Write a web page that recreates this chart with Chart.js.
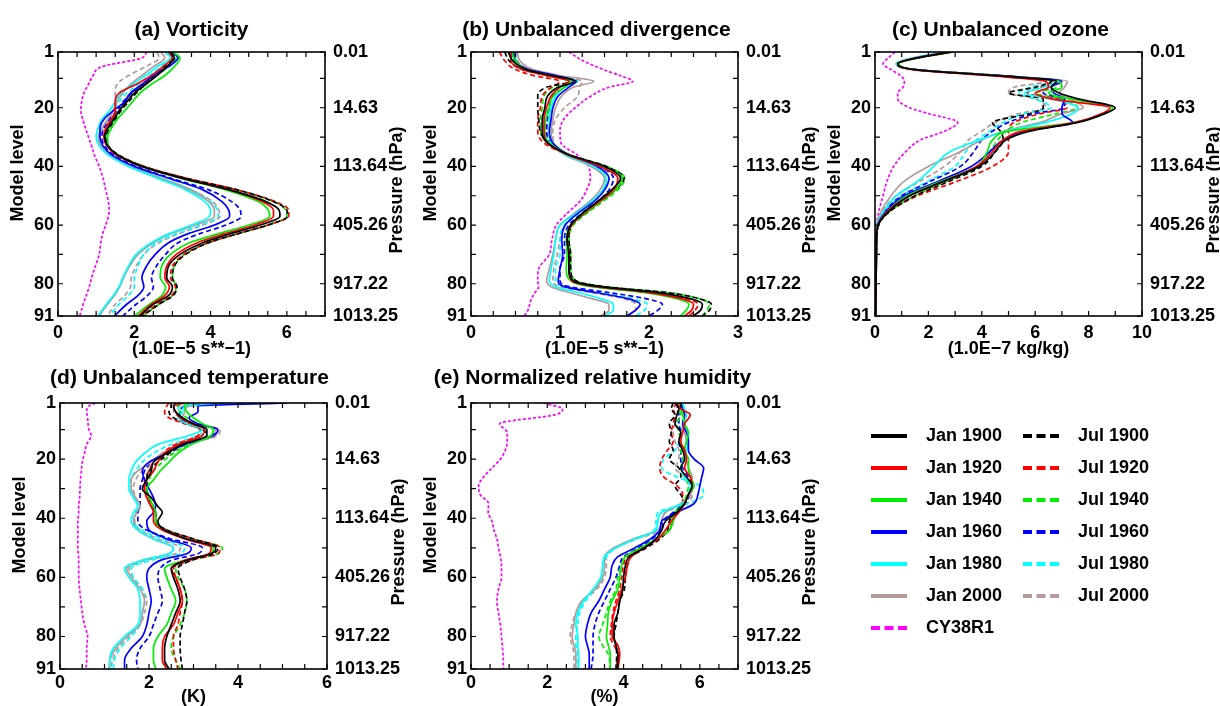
<!DOCTYPE html>
<html>
<head>
<meta charset="utf-8">
<script src="https://cdn.jsdelivr.net/npm/chart.js@4.4.1/dist/chart.umd.min.js"></script>
<style>
  body { margin: 0; background: #fff; width: 1220px; height: 706px; position: relative; overflow: hidden; }
  canvas { position: absolute; }
</style>
</head>
<body>
<canvas id="vor"></canvas>
<canvas id="div"></canvas>
<canvas id="ozo"></canvas>
<canvas id="tmp"></canvas>
<canvas id="rh"></canvas>
<canvas id="legJan"></canvas>
<canvas id="legJul"></canvas>
<script>
// series (same order in every value table below)
const seriesNames = ['Jan 1900', 'Jan 1920', 'Jan 1940', 'Jan 1960', 'Jan 1980', 'Jan 2000', 'CY38R1',
                     'Jul 1900', 'Jul 1920', 'Jul 1940', 'Jul 1960', 'Jul 1980', 'Jul 2000'];
const seriesColors = ['#000000', '#ff0000', '#00ee00', '#0000ff', '#00ffff', '#b49a9a', '#ff00ff',
                      '#000000', '#ff0000', '#00ee00', '#0000ff', '#00ffff', '#b49a9a'];
const seriesDash = [[], [], [], [], [], [], [3, 2], [5, 3], [5, 3], [5, 3], [5, 3], [5, 3], [5, 3]];

// model levels with tick marks, the labelled ones and their pressures
const modelTicks = [1, 10, 20, 30, 40, 50, 60, 70, 80, 91];
const labelLevels = [1, 20, 40, 60, 80, 91];
const pressureLabels = ['0.01', '14.63', '113.64', '405.26', '917.22', '1013.25'];

// (a) vorticity, 1.0E-5 s**-1
const vorLevels = [1, 3, 6, 9, 12, 15, 18, 21, 24, 27, 30, 33, 36, 40, 44, 48, 52, 55, 57, 60, 63, 66, 70, 74, 78, 81, 84, 87, 91];
const vorValues = [
  [2.95, 3.05, 2.85, 2.6, 2.3, 2.0, 1.8, 1.6, 1.45, 1.3, 1.22, 1.3, 1.55, 2.2, 3.25, 4.5, 5.45, 5.8, 5.82, 5.3, 4.5, 3.8, 3.2, 2.9, 2.85, 3.0, 2.9, 2.5, 2.15],
  [2.9, 3.0, 2.75, 2.45, 2.05, 1.6, 1.5, 1.5, 1.4, 1.25, 1.2, 1.28, 1.52, 2.2, 3.25, 4.5, 5.35, 5.65, 5.65, 5.15, 4.35, 3.65, 3.1, 2.85, 2.8, 2.92, 2.8, 2.45, 2.1],
  [3.0, 3.2, 3.05, 2.8, 2.45, 2.15, 1.95, 1.75, 1.55, 1.4, 1.3, 1.32, 1.55, 2.2, 3.2, 4.4, 5.25, 5.52, 5.55, 5.0, 4.2, 3.45, 2.95, 2.72, 2.68, 2.82, 2.72, 2.4, 2.0],
  [2.95, 3.15, 2.9, 2.5, 2.2, 1.9, 1.75, 1.45, 1.2, 1.1, 1.1, 1.18, 1.4, 2.0, 2.9, 3.8, 4.3, 4.48, 4.5, 4.1, 3.4, 2.9, 2.55, 2.32, 2.2, 2.25, 2.1, 1.8, 1.48],
  [2.85, 2.95, 2.6, 2.3, 1.95, 1.65, 1.5, 1.35, 1.15, 1.05, 1.0, 1.08, 1.3, 1.85, 2.6, 3.35, 3.85, 4.0, 3.98, 3.5, 2.9, 2.45, 2.05, 1.85, 1.7, 1.6, 1.45, 1.27, 1.05],
  [2.7, 2.8, 2.5, 2.2, 1.9, 1.7, 1.55, 1.45, 1.3, 1.15, 1.05, 1.12, 1.32, 1.88, 2.65, 3.45, 3.95, 4.1, 4.1, 3.6, 2.95, 2.5, 2.1, 1.88, 1.72, 1.62, 1.48, 1.3, 1.08],
  [2.32, 2.2, 1.15, 0.92, 0.8, 0.68, 0.62, 0.6, 0.65, 0.72, 0.8, 0.88, 0.95, 1.08, 1.18, 1.25, 1.32, 1.34, 1.32, 1.25, 1.17, 1.12, 1.08, 0.98, 0.88, 0.82, 0.74, 0.66, 0.57],
  [2.9, 3.0, 2.8, 2.55, 2.3, 2.05, 1.85, 1.65, 1.5, 1.35, 1.25, 1.32, 1.58, 2.25, 3.35, 4.7, 5.65, 6.0, 6.02, 5.5, 4.7, 3.95, 3.35, 3.05, 3.0, 3.12, 3.02, 2.65, 2.22],
  [2.9, 3.0, 2.8, 2.55, 2.25, 1.9, 1.75, 1.6, 1.45, 1.3, 1.22, 1.3, 1.56, 2.25, 3.35, 4.7, 5.7, 6.05, 6.05, 5.5, 4.7, 3.95, 3.3, 3.0, 2.95, 3.08, 2.98, 2.6, 2.2],
  [2.95, 3.1, 2.9, 2.6, 2.3, 2.0, 1.8, 1.62, 1.48, 1.33, 1.25, 1.3, 1.56, 2.25, 3.3, 4.65, 5.65, 5.98, 6.0, 5.5, 4.7, 3.95, 3.32, 3.05, 3.0, 3.1, 3.0, 2.65, 2.22],
  [2.9, 3.05, 2.85, 2.5, 2.25, 1.95, 1.7, 1.55, 1.35, 1.2, 1.15, 1.22, 1.45, 2.05, 2.95, 3.95, 4.55, 4.78, 4.8, 4.4, 3.7, 3.15, 2.82, 2.58, 2.45, 2.5, 2.35, 2.05, 1.7],
  [2.8, 2.95, 2.7, 2.4, 2.1, 1.8, 1.6, 1.45, 1.3, 1.15, 1.08, 1.15, 1.35, 1.9, 2.7, 3.5, 4.0, 4.18, 4.2, 3.75, 3.1, 2.6, 2.25, 2.1, 2.0, 2.0, 1.85, 1.6, 1.35],
  [2.6, 2.65, 2.3, 1.85, 1.55, 1.5, 1.5, 1.45, 1.35, 1.2, 1.1, 1.15, 1.35, 1.92, 2.72, 3.5, 4.05, 4.22, 4.25, 3.8, 3.15, 2.65, 2.25, 2.05, 1.92, 1.9, 1.75, 1.5, 1.3]
];

// (b) unbalanced divergence, 1.0E-5 s**-1
const divLevels = [1, 4, 7, 9, 11, 13, 16, 20, 24, 28, 32, 36, 40, 44, 48, 52, 56, 60, 65, 70, 75, 79, 81, 83, 85, 87, 89, 91];
const divValues = [
  [0.42, 0.47, 0.62, 0.9, 1.18, 0.98, 0.86, 0.83, 0.8, 0.8, 0.86, 1.1, 1.5, 1.68, 1.58, 1.42, 1.25, 1.12, 1.08, 1.1, 1.1, 1.15, 1.45, 2.1, 2.45, 2.6, 2.58, 2.5],
  [0.45, 0.45, 0.58, 0.85, 1.1, 1.0, 0.9, 0.85, 0.82, 0.82, 0.86, 1.08, 1.45, 1.65, 1.6, 1.44, 1.26, 1.13, 1.08, 1.1, 1.1, 1.13, 1.4, 2.0, 2.35, 2.5, 2.48, 2.4],
  [0.46, 0.5, 0.62, 0.88, 1.12, 1.05, 0.92, 0.88, 0.84, 0.83, 0.88, 1.1, 1.48, 1.7, 1.62, 1.45, 1.27, 1.12, 1.07, 1.08, 1.07, 1.12, 1.35, 1.95, 2.3, 2.45, 2.42, 2.35],
  [0.48, 0.5, 0.65, 0.95, 1.18, 1.1, 0.98, 0.92, 0.9, 0.88, 0.92, 1.1, 1.42, 1.55, 1.5, 1.38, 1.2, 1.06, 1.02, 1.03, 1.0, 0.98, 1.05, 1.4, 1.75, 1.9, 1.85, 1.75],
  [0.5, 0.5, 0.62, 0.92, 1.2, 1.05, 0.95, 0.9, 0.88, 0.88, 0.9, 1.05, 1.38, 1.52, 1.48, 1.35, 1.18, 1.0, 0.95, 0.93, 0.9, 0.88, 0.95, 1.2, 1.45, 1.6, 1.6, 1.5],
  [0.52, 0.55, 0.7, 1.0, 1.38, 1.15, 1.02, 0.95, 0.92, 0.9, 0.92, 1.05, 1.35, 1.5, 1.45, 1.33, 1.16, 1.0, 0.95, 0.92, 0.88, 0.85, 0.9, 1.1, 1.35, 1.55, 1.55, 1.45],
  [1.1, 1.26, 1.49, 1.67, 1.82, 1.55, 1.35, 1.17, 1.04, 1.0, 1.01, 1.19, 1.32, 1.34, 1.3, 1.22, 1.08, 0.96, 0.91, 0.88, 0.76, 0.75, 0.76, 0.72, 0.68, 0.66, 0.64, 0.6],
  [0.38, 0.43, 0.58, 0.85, 1.12, 0.85, 0.75, 0.75, 0.76, 0.78, 0.86, 1.1, 1.52, 1.72, 1.62, 1.45, 1.28, 1.13, 1.1, 1.12, 1.12, 1.18, 1.5, 2.2, 2.55, 2.7, 2.68, 2.6],
  [0.32, 0.38, 0.5, 0.7, 1.0, 0.9, 0.8, 0.78, 0.75, 0.75, 0.82, 1.08, 1.48, 1.7, 1.62, 1.45, 1.28, 1.13, 1.08, 1.1, 1.1, 1.15, 1.45, 2.1, 2.4, 2.55, 2.52, 2.45],
  [0.42, 0.47, 0.6, 0.85, 1.1, 0.92, 0.82, 0.8, 0.78, 0.78, 0.86, 1.1, 1.52, 1.73, 1.65, 1.48, 1.3, 1.15, 1.1, 1.12, 1.12, 1.18, 1.5, 2.2, 2.55, 2.68, 2.65, 2.6],
  [0.45, 0.48, 0.62, 0.9, 1.15, 1.05, 0.92, 0.88, 0.86, 0.85, 0.9, 1.1, 1.45, 1.6, 1.55, 1.42, 1.25, 1.1, 1.05, 1.05, 1.0, 1.0, 1.1, 1.55, 1.95, 2.15, 2.1, 2.0],
  [0.47, 0.48, 0.6, 0.9, 1.18, 1.0, 0.9, 0.86, 0.85, 0.85, 0.9, 1.08, 1.42, 1.55, 1.5, 1.38, 1.22, 1.05, 1.0, 1.0, 0.95, 0.95, 1.05, 1.45, 1.8, 1.98, 1.95, 1.85],
  [0.5, 0.52, 0.66, 0.95, 1.25, 1.22, 1.2, 1.05, 0.95, 0.92, 0.93, 1.08, 1.4, 1.55, 1.5, 1.38, 1.2, 1.05, 1.0, 0.97, 0.93, 0.92, 1.0, 1.35, 1.7, 1.85, 1.85, 1.75]
];

// (c) unbalanced ozone, 1.0E-7 kg/kg
const ozoLevels = [1, 3, 5, 7, 9, 11, 13, 15, 17, 20, 22, 25, 28, 31, 35, 40, 45, 50, 55, 60, 65, 70, 80, 91];
const ozoValues = [
  [2.9, 1.6, 0.85, 1.5, 4.5, 6.8, 6.6, 6.9, 7.6, 9.0, 8.6, 7.6, 5.8, 4.9, 4.5, 3.9, 2.6, 1.3, 0.55, 0.12, 0.06, 0.05, 0.04, 0.03],
  [2.9, 1.6, 0.85, 1.4, 4.2, 6.4, 6.5, 6.0, 6.6, 8.8, 8.5, 7.5, 5.5, 4.8, 4.4, 3.8, 2.6, 1.3, 0.5, 0.12, 0.06, 0.05, 0.04, 0.03],
  [2.95, 1.65, 0.9, 1.5, 4.4, 6.9, 7.0, 6.5, 7.3, 8.9, 8.6, 7.5, 5.0, 4.4, 4.2, 3.8, 2.5, 1.2, 0.5, 0.12, 0.06, 0.05, 0.04, 0.03],
  [2.8, 1.55, 0.85, 1.5, 4.6, 7.0, 6.6, 6.7, 7.1, 7.0, 7.0, 7.4, 5.6, 4.8, 4.3, 3.6, 2.4, 1.1, 0.45, 0.1, 0.05, 0.05, 0.04, 0.03],
  [2.7, 1.45, 0.8, 1.45, 4.4, 6.8, 6.3, 5.6, 6.6, 7.6, 7.4, 6.4, 4.9, 3.9, 2.8, 2.2, 1.6, 0.8, 0.35, 0.08, 0.05, 0.04, 0.04, 0.03],
  [2.7, 1.5, 0.8, 1.5, 4.6, 7.2, 7.1, 6.9, 7.3, 7.8, 7.0, 6.2, 4.8, 4.0, 3.2, 2.0, 1.1, 0.6, 0.25, 0.06, 0.04, 0.04, 0.04, 0.03],
  [0.75, 0.5, 0.3, 0.6, 0.95, 1.1, 1.05, 0.85, 0.85, 1.3, 2.0, 3.1, 2.6, 1.7, 1.15, 0.7, 0.45, 0.3, 0.15, 0.06, 0.03, 0.02, 0.02, 0.02],
  [2.8, 1.5, 0.85, 1.5, 4.6, 6.6, 6.0, 5.0, 6.3, 6.3, 5.8, 4.4, 4.7, 4.8, 4.5, 4.0, 2.8, 1.5, 0.6, 0.12, 0.06, 0.05, 0.04, 0.03],
  [2.85, 1.55, 0.85, 1.5, 4.5, 6.7, 6.2, 5.7, 6.8, 7.2, 6.2, 5.2, 5.0, 5.0, 5.0, 4.4, 3.1, 1.6, 0.6, 0.12, 0.06, 0.05, 0.04, 0.03],
  [2.9, 1.55, 0.85, 1.5, 4.5, 6.8, 6.8, 6.0, 7.0, 7.6, 6.8, 5.5, 4.9, 4.6, 4.3, 3.9, 2.7, 1.5, 0.6, 0.12, 0.06, 0.05, 0.04, 0.03],
  [2.8, 1.5, 0.85, 1.5, 4.5, 6.8, 6.5, 6.3, 7.0, 7.1, 6.0, 5.0, 4.4, 4.0, 3.7, 3.2, 2.1, 1.0, 0.4, 0.1, 0.05, 0.05, 0.04, 0.03],
  [2.7, 1.45, 0.8, 1.45, 4.3, 6.6, 5.8, 5.4, 6.0, 6.6, 5.6, 4.8, 4.3, 3.8, 3.4, 3.0, 2.0, 1.0, 0.4, 0.1, 0.05, 0.04, 0.04, 0.03],
  [2.65, 1.45, 0.8, 1.45, 4.3, 6.4, 5.2, 5.0, 6.0, 6.4, 5.4, 4.5, 4.0, 3.5, 3.2, 2.6, 1.7, 0.8, 0.3, 0.07, 0.04, 0.04, 0.04, 0.03]
];

// (d) unbalanced temperature, K
const tmpLevels = [1, 2, 4, 6, 8, 10, 12, 15, 18, 21, 24, 27, 30, 33, 36, 38, 41, 44, 47, 50, 52, 54, 57, 60, 64, 68, 72, 76, 80, 84, 88, 91];
const tmpValues = [
  [2.6, 2.55, 2.6, 2.75, 3.0, 3.3, 3.3, 2.75, 2.4, 2.1, 2.05, 1.95, 1.85, 2.05, 2.2, 2.3, 2.2, 2.35, 2.85, 3.5, 3.4, 2.9, 2.5, 2.55, 2.65, 2.7, 2.6, 2.5, 2.4, 2.35, 2.35, 2.45],
  [2.8, 2.55, 2.6, 2.7, 2.95, 3.25, 3.2, 2.65, 2.35, 2.2, 2.1, 1.95, 1.9, 1.95, 2.05, 2.1, 2.1, 2.3, 2.8, 3.4, 3.35, 2.85, 2.5, 2.6, 2.7, 2.75, 2.65, 2.55, 2.35, 2.3, 2.3, 2.4],
  [2.9, 2.8, 2.85, 3.0, 3.2, 3.45, 3.4, 2.95, 2.65, 2.45, 2.25, 2.1, 1.95, 2.0, 2.1, 2.15, 2.15, 2.35, 2.85, 3.45, 3.4, 2.85, 2.35, 2.4, 2.5, 2.6, 2.5, 2.4, 2.2, 2.1, 2.1, 2.15],
  [5.1, 3.1, 3.1, 2.9, 3.1, 3.55, 3.45, 2.8, 2.4, 2.0, 1.85, 1.9, 2.0, 2.1, 2.15, 2.1, 1.95, 2.0, 2.4, 2.95, 2.85, 2.3, 2.0, 1.95, 2.0, 2.05, 2.0, 1.95, 1.85, 1.6, 1.45, 1.45],
  [4.8, 2.8, 2.75, 2.65, 2.85, 3.2, 2.9, 2.2, 1.9, 1.7, 1.6, 1.55, 1.55, 1.65, 1.75, 1.65, 1.6, 1.75, 2.1, 2.55, 2.45, 1.9, 1.45, 1.55, 1.75, 1.8, 1.8, 1.75, 1.45, 1.2, 1.12, 1.12],
  [5.0, 2.9, 2.8, 2.75, 3.0, 3.5, 3.5, 2.75, 2.3, 2.05, 1.75, 1.6, 1.6, 1.7, 1.8, 1.72, 1.65, 1.75, 2.1, 2.55, 2.45, 1.9, 1.5, 1.6, 1.8, 1.9, 1.85, 1.8, 1.5, 1.25, 1.12, 1.1],
  [0.8, 0.65, 0.6, 0.62, 0.63, 0.65, 0.7, 0.6, 0.55, 0.5, 0.48, 0.46, 0.45, 0.44, 0.42, 0.42, 0.4, 0.4, 0.4, 0.4, 0.41, 0.42, 0.42, 0.42, 0.44, 0.47, 0.5, 0.55, 0.62, 0.6, 0.6, 0.58],
  [2.5, 2.5, 2.45, 2.55, 2.85, 3.2, 3.3, 2.8, 2.45, 2.2, 2.0, 1.95, 1.95, 2.0, 2.05, 2.15, 2.15, 2.4, 3.0, 3.55, 3.45, 3.0, 2.65, 2.7, 2.8, 2.85, 2.8, 2.75, 2.7, 2.7, 2.72, 2.75],
  [2.45, 2.4, 2.35, 2.45, 2.8, 3.15, 3.1, 2.6, 2.3, 2.1, 2.0, 1.9, 1.9, 1.95, 2.05, 2.15, 2.15, 2.4, 3.0, 3.6, 3.55, 3.0, 2.55, 2.6, 2.7, 2.75, 2.7, 2.65, 2.55, 2.55, 2.6, 2.65],
  [2.7, 2.65, 2.7, 2.85, 3.1, 3.45, 3.4, 2.9, 2.55, 2.3, 2.1, 2.0, 1.95, 2.0, 2.1, 2.15, 2.15, 2.4, 3.0, 3.65, 3.55, 3.0, 2.6, 2.65, 2.8, 2.85, 2.8, 2.7, 2.55, 2.5, 2.6, 2.7],
  [4.6, 2.8, 2.7, 2.7, 2.95, 3.5, 3.4, 2.75, 2.35, 2.05, 1.9, 1.85, 1.8, 1.8, 1.8, 1.75, 1.75, 1.95, 2.5, 3.2, 3.1, 2.55, 2.25, 2.2, 2.25, 2.3, 2.2, 2.1, 2.0, 1.8, 1.72, 1.75],
  [4.5, 2.7, 2.65, 2.7, 2.9, 3.3, 3.1, 2.5, 2.1, 1.85, 1.7, 1.6, 1.6, 1.65, 1.75, 1.7, 1.65, 1.85, 2.3, 2.8, 2.7, 2.1, 1.6, 1.65, 1.85, 1.9, 1.85, 1.8, 1.6, 1.35, 1.22, 1.2],
  [4.7, 2.6, 2.55, 2.7, 2.95, 3.6, 3.55, 2.85, 2.5, 2.2, 1.85, 1.7, 1.65, 1.7, 1.8, 1.72, 1.68, 1.8, 2.2, 2.7, 2.6, 2.0, 1.55, 1.65, 1.85, 1.95, 1.9, 1.8, 1.55, 1.3, 1.18, 1.15]
];

// (e) normalized relative humidity, %
const rhLevels = [1, 3, 5, 8, 11, 14, 17, 20, 23, 26, 29, 32, 35, 38, 41, 44, 47, 50, 53, 56, 60, 64, 68, 72, 76, 80, 83, 86, 91];
const rhValues = [
  [5.35, 5.45, 5.4, 5.35, 5.5, 5.45, 5.55, 5.6, 5.5, 5.65, 5.8, 5.7, 5.6, 5.4, 5.1, 5.0, 4.85, 4.55, 4.15, 4.05, 4.0, 3.98, 3.9, 3.85, 3.75, 3.75, 3.8, 3.85, 3.85],
  [5.4, 5.5, 5.75, 5.6, 5.55, 5.5, 5.6, 5.65, 5.6, 5.75, 5.8, 5.7, 5.6, 5.45, 5.25, 5.1, 4.9, 4.55, 4.2, 4.1, 4.05, 3.95, 3.85, 3.75, 3.7, 3.7, 3.85, 3.9, 3.85],
  [5.45, 5.5, 5.55, 5.6, 5.7, 5.65, 5.6, 5.7, 5.7, 5.75, 5.85, 5.7, 5.6, 5.4, 5.3, 5.2, 4.85, 4.45, 4.05, 3.95, 3.9, 3.85, 3.7, 3.6, 3.58, 3.55, 3.6, 3.65, 3.65],
  [5.5, 5.55, 5.6, 5.55, 5.65, 5.7, 5.7, 5.85, 6.1, 6.05, 6.0, 5.95, 5.85, 5.4, 5.0, 4.95, 4.7, 4.3, 3.85, 3.7, 3.65, 3.5, 3.35, 3.15, 3.05, 3.0, 3.05, 3.1, 3.1],
  [5.55, 5.6, 5.65, 5.6, 5.7, 5.7, 5.65, 5.6, 5.5, 5.6, 5.75, 5.7, 5.55, 5.0, 4.9, 4.85, 4.3, 3.8, 3.5, 3.45, 3.4, 3.2, 2.95, 2.8, 2.75, 2.8, 2.8, 2.82, 2.82],
  [5.5, 5.55, 5.6, 5.55, 5.6, 5.65, 5.6, 5.65, 5.7, 5.8, 5.8, 5.75, 5.5, 5.1, 5.0, 4.9, 4.25, 3.75, 3.5, 3.5, 3.45, 3.25, 2.9, 2.75, 2.7, 2.65, 2.7, 2.75, 2.75],
  [1.9, 2.4, 2.2, 0.75, 0.95, 0.95, 0.9, 0.77, 0.55, 0.33, 0.2, 0.24, 0.46, 0.45, 0.55, 0.6, 0.68, 0.72, 0.77, 0.8, 0.8, 0.72, 0.68, 0.72, 0.77, 0.8, 0.82, 0.84, 0.85],
  [5.3, 5.25, 5.35, 5.2, 5.25, 5.2, 5.3, 5.2, 5.45, 5.5, 5.35, 5.5, 5.6, 5.35, 5.2, 5.15, 4.95, 4.6, 4.2, 4.1, 4.05, 4.02, 3.9, 3.85, 3.8, 3.75, 3.8, 3.82, 3.8],
  [5.4, 5.3, 5.35, 5.3, 5.25, 5.3, 5.15, 5.0, 4.95, 5.05, 5.4, 5.55, 5.55, 5.4, 5.3, 5.2, 4.9, 4.5, 4.1, 4.0, 3.95, 3.9, 3.8, 3.72, 3.68, 3.65, 3.75, 3.85, 3.8],
  [5.5, 5.45, 5.5, 5.4, 5.45, 5.5, 5.5, 5.55, 5.5, 5.6, 5.7, 5.65, 5.55, 5.35, 5.25, 5.2, 4.9, 4.45, 4.05, 3.95, 3.85, 3.8, 3.65, 3.55, 3.45, 3.35, 3.45, 3.6, 3.65],
  [5.45, 5.4, 5.45, 5.45, 5.5, 5.45, 5.5, 5.5, 5.55, 5.7, 5.8, 5.75, 5.6, 5.3, 5.05, 5.0, 4.75, 4.4, 4.0, 3.9, 3.8, 3.65, 3.5, 3.35, 3.25, 3.2, 3.2, 3.2, 3.15],
  [5.5, 5.5, 5.6, 5.55, 5.5, 5.45, 5.35, 5.05, 5.0, 5.4, 6.0, 6.1, 5.7, 4.9, 4.85, 4.8, 4.3, 3.8, 3.55, 3.5, 3.45, 3.25, 3.0, 2.85, 2.8, 2.75, 2.75, 2.8, 2.8],
  [5.45, 5.4, 5.5, 5.35, 5.3, 5.35, 5.45, 5.45, 5.35, 5.6, 5.75, 5.8, 5.65, 5.1, 5.0, 4.95, 4.35, 3.8, 3.55, 3.55, 3.5, 3.3, 2.95, 2.75, 2.65, 2.6, 2.65, 2.7, 2.7]
];

Chart.defaults.font.family = "'Liberation Sans', Arial, Helvetica, sans-serif";
Chart.defaults.font.weight = 'bold';
Chart.defaults.font.size = 18;
Chart.defaults.color = '#000';

// box frame, inward tick marks and the two rotated side titles
const frameAndTitles = {
  id: 'frameAndTitles',
  afterDraw(chart, args, opts) {
    const { ctx, chartArea: a, scales } = chart;
    ctx.save();
    ctx.strokeStyle = '#000';
    ctx.lineWidth = 1.2;
    ctx.beginPath();
    scales.x.ticks.forEach(t => {
      const px = scales.x.getPixelForValue(t.value);
      ctx.moveTo(px, a.bottom); ctx.lineTo(px, a.bottom - 5);
      ctx.moveTo(px, a.top); ctx.lineTo(px, a.top + 5);
    });
    scales.y.ticks.forEach(t => {
      const py = scales.y.getPixelForValue(t.value);
      ctx.moveTo(a.left, py); ctx.lineTo(a.left + 5, py);
      ctx.moveTo(a.right, py); ctx.lineTo(a.right - 5, py);
    });
    ctx.stroke();
    ctx.lineWidth = 1.6;
    ctx.strokeRect(a.left, a.top, a.right - a.left, a.bottom - a.top);

    ctx.fillStyle = '#000';
    ctx.font = "bold 18px 'Liberation Sans', Arial, sans-serif";
    ctx.textAlign = 'center';
    ctx.textBaseline = 'middle';
    const midY = (a.top + a.bottom) / 2;
    [[opts.left, a.left - 40, midY - 11], [opts.right, a.right + 72, midY + 6]].forEach(([text, x, y]) => {
      ctx.save();
      ctx.translate(x, y);
      ctx.rotate(-Math.PI / 2);
      ctx.fillText(text, 0, 0);
      ctx.restore();
    });
    ctx.restore();
  }
};

// titleShift moves the panel title left of the plot centre by that many pixels
const panels = [
  { id: 'vor', title: '(a) Vorticity', levels: vorLevels, values: vorValues, xMax: 7, minor: 0.5, major: 2,
    xTitle: '(1.0E\u22125 s**\u22121)', box: [58, 52, 325, 316], titleTop: 18, titleShift: 0, tickPad: 6, titlePad: 4 },
  { id: 'div', title: '(b) Unbalanced divergence', levels: divLevels, values: divValues, xMax: 3, minor: 0.25, major: 1,
    xTitle: '(1.0E\u22125 s**\u22121)', box: [471, 52, 738, 316], titleTop: 18, titleShift: 8, tickPad: 6, titlePad: 4 },
  { id: 'ozo', title: '(c) Unbalanced ozone', levels: ozoLevels, values: ozoValues, xMax: 10, minor: 1, major: 2,
    xTitle: '(1.0E\u22127 kg/kg)', box: [875, 52, 1142, 316], titleTop: 18, titleShift: 8, tickPad: 6, titlePad: 4 },
  { id: 'tmp', title: '(d) Unbalanced temperature', levels: tmpLevels, values: tmpValues, xMax: 6, minor: 0.5, major: 2,
    xTitle: '(K)', box: [60, 403, 327, 669], titleTop: 15, titleShift: 4, tickPad: 3, titlePad: 9 },
  { id: 'rh', title: '(e) Normalized relative humidity', levels: rhLevels, values: rhValues, xMax: 7, minor: 0.5, major: 2,
    xTitle: '(%)', box: [471, 403, 738, 669], titleTop: 15, titleShift: 12, tickPad: 3, titlePad: 9 }
];

const RIGHT_W = 95, TOP_H = 52, BOTTOM_H = 48;

panels.forEach(p => {
  const [l, t, r, b] = p.box;
  // the full-width title is centred on the canvas, so widen the left side to shift it
  const leftW = RIGHT_W + 2 * p.titleShift;
  const canvas = document.getElementById(p.id);
  canvas.width = (r - l) + leftW + RIGHT_W;
  canvas.height = (b - t) + TOP_H + BOTTOM_H;
  canvas.style.left = (l - leftW) + 'px';
  canvas.style.top = (t - TOP_H) + 'px';

  const datasets = seriesNames.map((name, i) => ({
    label: name,
    data: p.levels.map((lv, k) => ({ x: p.values[i][k], y: lv })),
    borderColor: seriesColors[i],
    borderDash: seriesDash[i],
    borderWidth: 1.7,
    pointRadius: 0,
    fill: false,
    cubicInterpolationMode: 'monotone'
  }));

  const levelAxis = (position, pad, width, label) => ({
    type: 'linear', position, min: 1, max: 91, reverse: true,
    afterBuildTicks: s => { s.ticks = modelTicks.map(v => ({ value: v })); },
    grid: { display: false, drawTicks: false },
    border: { display: false },
    ticks: { autoSkip: false, padding: pad, callback: label },
    afterFit: s => { s.width = width; }
  });

  new Chart(canvas, {
    type: 'line',
    data: { datasets },
    options: {
      responsive: false,
      animation: false,
      indexAxis: 'y',
      layout: { padding: 0 },
      plugins: {
        legend: { display: false },
        tooltip: { enabled: false },
        title: {
          display: true, text: p.title, fullSize: true,
          font: { size: 21, weight: 'bold' },
          padding: { top: p.titleTop, bottom: TOP_H - p.titleTop - 25.2 }
        },
        frameAndTitles: { left: 'Model level', right: 'Pressure (hPa)' }
      },
      scales: {
        x: {
          type: 'linear', min: 0, max: p.xMax,
          grid: { display: false, drawTicks: false },
          border: { display: false },
          ticks: {
            stepSize: p.minor, autoSkip: false, maxRotation: 0, padding: p.tickPad,
            callback: v => (Math.abs(v / p.major - Math.round(v / p.major)) < 1e-6 ? String(Math.round(v)) : '')
          },
          title: { display: true, text: p.xTitle, padding: { top: 0, bottom: p.titlePad } },
          afterFit: s => { s.height = BOTTOM_H; }
        },
        y: levelAxis('left', 4, leftW, v => (labelLevels.includes(v) ? String(v) : '')),
        y2: levelAxis('right', 8, RIGHT_W, v => {
          const i = labelLevels.indexOf(v);
          return i < 0 ? '' : pressureLabels[i];
        })
      }
    },
    plugins: [frameAndTitles]
  });
});

// legend, two columns: January runs with CY38R1, then July runs
function legendItems(chart) {
  return chart.data.datasets.map((ds, i) => ({
    text: '  ' + ds.label,
    strokeStyle: ds.borderColor,
    fillStyle: ds.borderColor,
    lineWidth: 4,
    lineDash: ds.borderDash.length ? [9, 4.5] : [],
    pointStyle: 'line',
    hidden: false,
    datasetIndex: i
  }));
}

function makeLegend(id, left, names) {
  const canvas = document.getElementById(id);
  canvas.width = 360;
  canvas.height = 260;
  canvas.style.left = left + 'px';
  canvas.style.top = '413px';
  new Chart(canvas, {
    type: 'line',
    data: {
      datasets: names.map(name => {
        const i = seriesNames.indexOf(name);
        return { label: name, data: [], borderColor: seriesColors[i], borderDash: seriesDash[i] };
      })
    },
    options: {
      responsive: false,
      animation: false,
      layout: { padding: 0 },
      scales: { x: { display: false }, y: { display: false } },
      plugins: {
        tooltip: { enabled: false },
        legend: {
          position: 'left', align: 'start',
          labels: {
            usePointStyle: true, pointStyleWidth: 36, boxHeight: 18, padding: 14,
            font: { size: 18, weight: 'bold' }, color: '#000',
            generateLabels: legendItems
          }
        }
      }
    }
  });
}

makeLegend('legJan', 857, seriesNames.filter(n => !n.startsWith('Jul')));
makeLegend('legJul', 1009, seriesNames.filter(n => n.startsWith('Jul')));
</script>
</body>
</html>
